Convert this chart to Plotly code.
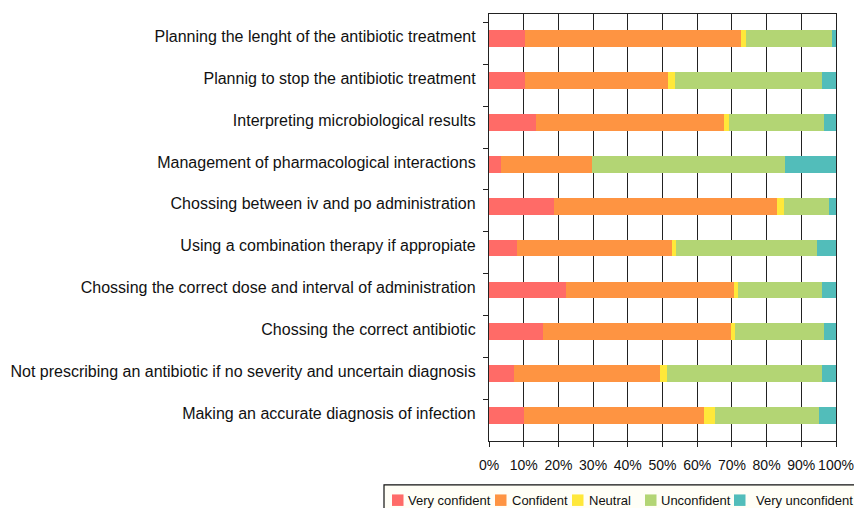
import plotly.graph_objects as go

categories = [
    "Planning the lenght of the antibiotic treatment",
    "Plannig to stop the antibiotic treatment",
    "Interpreting microbiological results",
    "Management of pharmacological interactions",
    "Chossing between iv and po administration",
    "Using a combination therapy if appropiate",
    "Chossing the correct dose and interval of administration",
    "Chossing the correct antibiotic",
    "Not prescribing an antibiotic if no severity and uncertain diagnosis",
    "Making an accurate diagnosis of infection",
]

very_confident = [10.5, 10.3, 13.5, 3.4, 18.7, 8.0, 22.1, 15.5, 7.1, 10.2]
confident = [62.2, 41.4, 54.3, 26.2, 64.4, 44.7, 48.5, 54.3, 42.2, 51.8]
neutral = [1.3, 1.9, 1.4, 0.0, 2.0, 1.2, 1.2, 1.1, 2.0, 3.1]
unconfident = [24.9, 42.5, 27.4, 55.8, 13.0, 40.7, 24.3, 25.7, 44.8, 30.1]
very_unconfident = [1.1, 3.9, 3.4, 14.6, 1.9, 5.4, 3.9, 3.4, 3.9, 4.8]

series_names = ["Very confident", "Confident", "Neutral", "Unconfident", "Very unconfident"]
series_values = [very_confident, confident, neutral, unconfident, very_unconfident]
series_colors = ["#FF6B67", "#FE9442", "#FFE83A", "#B3D574", "#52BDBA"]

tick_vals = [0, 10, 20, 30, 40, 50, 60, 70, 80, 90, 100]
tick_text = ["0%", "10%", "20%", "30%", "40%", "50%", "60%", "70%", "80%", "90%", "100%"]

# layout geometry (page pixels; body margin is removed so the figure starts at 0,0)
W, H = 854, 508
PL, PR, PT, PB = 489, 836, 13.5, 441  # plot area
L, T = PL, PT
R, B = W - PR, H - PB
PW, PH = W - L - R, H - T - B


def px_x(px):
    return (px - L) / PW


def px_y(py):
    return (H - B - py) / PH


fig = go.Figure()
for name, vals, color in zip(series_names, series_values, series_colors):
    fig.add_trace(go.Bar(
        y=categories, x=vals, name=name, orientation="h",
        marker=dict(color=color, line=dict(width=0)),
        width=0.4, offset=-0.31, showlegend=False, hoverinfo="x+y+name",
    ))

FONT = "Liberation Sans, Arial, Helvetica, sans-serif"

# custom legend (box, swatches and labels)
legend_swatch_px = [392, 495, 572, 645, 734]
legend_text_px = [406, 510, 587, 659, 754]
shapes = [dict(
    type="rect", xref="paper", yref="paper",
    x0=px_x(384), x1=px_x(870), y0=px_y(520), y1=px_y(485),
    line=dict(color="#111", width=1.2), fillcolor="#FFFEF6", layer="below",
)]
annotations = []
for name, color, sx, tx in zip(series_names, series_colors, legend_swatch_px, legend_text_px):
    shapes.append(dict(
        type="rect", xref="paper", yref="paper",
        x0=px_x(sx), x1=px_x(sx + 11.5), y0=px_y(506), y1=px_y(494.5),
        line=dict(width=0), fillcolor=color,
    ))
    annotations.append(dict(
        text=name, xref="paper", yref="paper", x=px_x(tx), y=px_y(500.5),
        xanchor="left", yanchor="middle", showarrow=False,
        font=dict(family=FONT, size=13, color="#111"),
    ))

fig.update_layout(
    width=W, height=H,
    barmode="stack",
    plot_bgcolor="white", paper_bgcolor="white",
    margin=dict(l=L, r=R, t=T, b=B, pad=0, autoexpand=False),
    font=dict(family=FONT, size=16, color="#111"),
    showlegend=False,
    shapes=shapes,
    annotations=annotations,
)
fig.update_xaxes(
    range=[0, 100], tickvals=tick_vals, ticktext=tick_text, tickangle=0,
    showgrid=True, gridcolor="#222", gridwidth=1.3,
    showline=True, linecolor="#222", linewidth=1.3, mirror=True,
    ticks="outside", ticklen=5, tickcolor="#222", tickwidth=1.3,
    tickfont=dict(size=14), zeroline=False, automargin=False, ticklabelstandoff=6,
)
fig.update_yaxes(
    categoryorder="array", categoryarray=categories,
    range=[9.5, -0.703],
    showgrid=False, showline=True, linecolor="#222", linewidth=1.3, mirror=True,
    ticks="outside", ticklen=5, tickcolor="#222", tickwidth=1.3, tickson="boundaries",
    tickfont=dict(size=16), ticklabelstandoff=9, ticklabelshift=7, automargin=False,
)
fig.write_html(
    "out.html",
    config={"displayModeBar": False},
    post_script="document.body.style.margin='0px';document.body.style.overflow='hidden';",
)
